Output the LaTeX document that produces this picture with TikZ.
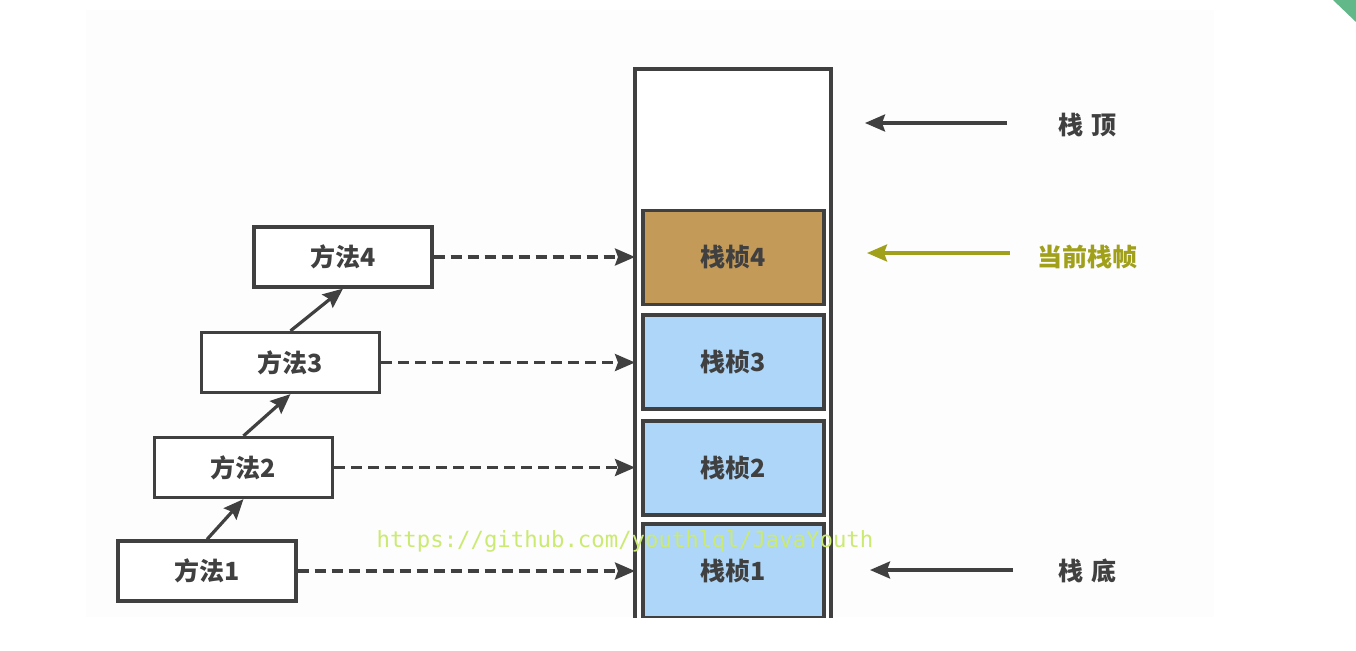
\documentclass[tikz,border=0pt]{standalone}
\usepackage{fontspec}
\newfontfamily\cjk{Noto Sans CJK SC}
\newfontfamily\monofont{DejaVu Sans Mono}
\usetikzlibrary{arrows.meta}
\definecolor{ink}{HTML}{404040}
\definecolor{olive}{HTML}{A0A01A}
\definecolor{tan}{HTML}{C49A58}
\definecolor{sky}{HTML}{ADD6F8}
\definecolor{mark}{HTML}{CBEA72}
\definecolor{panel}{HTML}{FDFDFD}
\definecolor{corner}{HTML}{62B888}
\tikzset{
  lbl/.style={font=\cjk\bfseries\fontsize{25}{25}\selectfont, text=ink},
  methodbox/.style={draw=ink, line width=3.2pt, fill=white, minimum width=178pt,
    minimum height=60pt, inner sep=0pt, lbl},
  framebox/.style={draw=ink, line width=3.2pt, minimum width=181pt,
    minimum height=94pt, inner sep=0pt, lbl},
  tip/.style={-{Stealth[length=20pt,width=17pt,inset=3pt]}},
  call/.style={tip, draw=ink, line width=3.2pt},
  link/.style={tip, draw=ink, line width=3.2pt, dash pattern=on 11pt off 6pt},
  pointer/.style={tip, line width=3.2pt},
}
\begin{document}
\begin{tikzpicture}[x=1pt,y=-1pt]
\useasboundingbox (0,0) rectangle (1356,650);
\fill[white] (0,0) rectangle (1356,650);
% light panel behind the drawing
\fill[panel] (86,10) rectangle (1214,617);
% corner tab
\fill[corner] (1333,0) -- (1356,0) -- (1356,22) -- cycle;

% stack with its frames, cut at the bottom
\begin{scope}
\clip (0,0) rectangle (1356,617);
\coordinate (stackBL) at (635,630);
\coordinate (stackTL) at (635,69);
\coordinate (stackTR) at (831,69);
\coordinate (stackBR) at (831,630);
\draw[ink, line width=3.2pt, fill=white] (stackBL) -- (stackTL) -- (stackTR) -- (stackBR);
\node[framebox, fill=tan] (f4) at (733.5,257.5) {栈桢4};
\node[framebox, fill=sky] (f3) at (733.5,362) {栈桢3};
\node[framebox, fill=sky] (f2) at (733.5,468) {栈桢2};
\node[framebox, fill=sky] (f1) at (733.5,571) {栈桢1};
\end{scope}

% methods
\node[methodbox] (m4) at (343,257) {方法4};
\node[methodbox] (m3) at (290.5,362.5) {方法3};
\node[methodbox] (m2) at (243.5,467.5) {方法2};
\node[methodbox] (m1) at (207,571) {方法1};

% call chain
\draw[call] (m1.north) -- (m2.south);
\draw[call] (m2.north) -- (m3.south);
\draw[call] (m3.north) -- (m4.south);

% each method points at its frame
\draw[link] (m4.east) -- (m4.east -| stackTL);
\draw[link] (m3.east) -- (m3.east -| stackTL);
\draw[link] (m2.east) -- (m2.east -| stackTL);
\draw[link] (m1.east) -- (m1.east -| stackTL);

% labels on the right
\node[lbl] (top) at (1087,125) {栈\hspace{8pt}顶};
\node[lbl, text=olive] (cur) at (1087,257) {当前栈帧};
\node[lbl] (bottom) at (1087,571) {栈\hspace{8pt}底};
\coordinate (topTail) at (1007,123);
\coordinate (topTip) at (865,123);
\coordinate (curTail) at (1010,253);
\coordinate (curTip) at (867,253);
\coordinate (bottomTail) at (1013,570);
\coordinate (bottomTip) at (870,570);
\draw[pointer, draw=ink] (topTail) -- (topTip);
\draw[pointer, draw=olive] (curTail) -- (curTip);
\draw[pointer, draw=ink] (bottomTail) -- (bottomTip);

% watermark
\node[font=\monofont\fontsize{22.3}{22.3}\selectfont, text=mark,
  inner sep=0pt] (url) at (625,541) {https://github.com/youthlql/JavaYouth};
\end{tikzpicture}
\end{document}
